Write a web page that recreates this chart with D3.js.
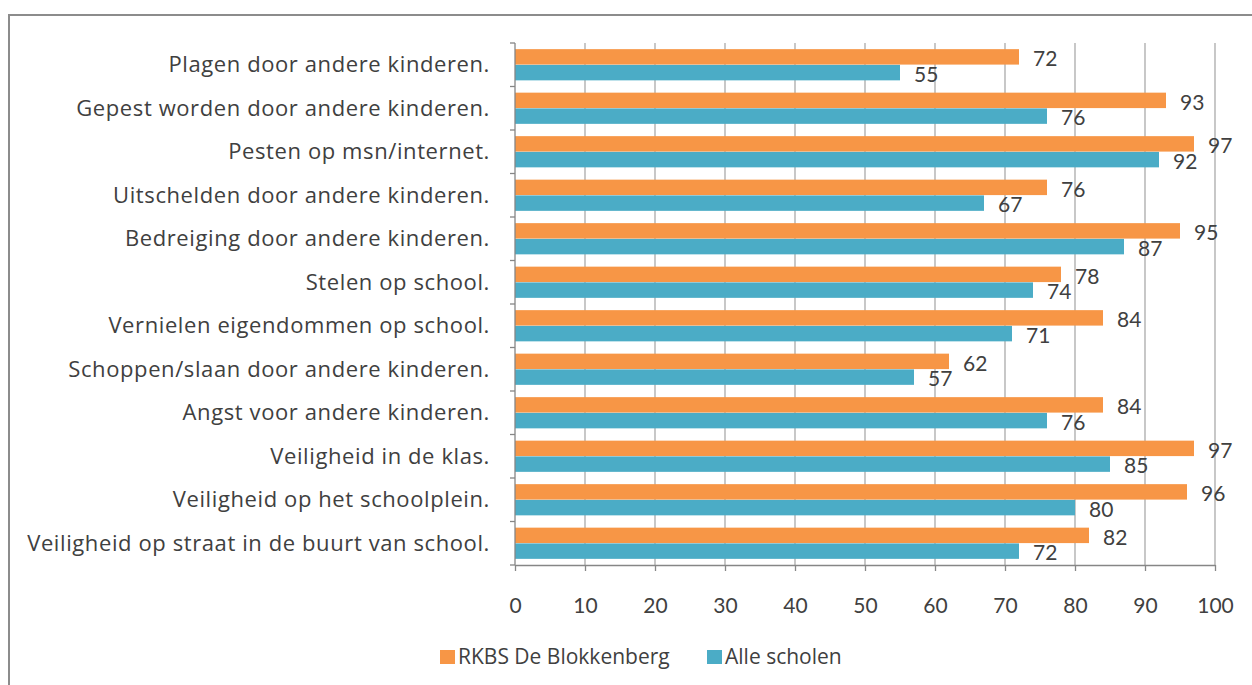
<!DOCTYPE html>
<html>
<head>
<meta charset="utf-8">
<script src="https://cdn.jsdelivr.net/npm/d3@7"></script>
<style>
  body { margin: 0; background: #fff; }
  text { font-family: Lato, "Open Sans", sans-serif; fill: #404040; }
</style>
</head>
<body>
<div id="chart"></div>
<script>
/** Chart data */
var categories = [
  "Plagen door andere kinderen.",
  "Gepest worden door andere kinderen.",
  "Pesten op msn/internet.",
  "Uitschelden door andere kinderen.",
  "Bedreiging door andere kinderen.",
  "Stelen op school.",
  "Vernielen eigendommen op school.",
  "Schoppen/slaan door andere kinderen.",
  "Angst voor andere kinderen.",
  "Veiligheid in de klas.",
  "Veiligheid op het schoolplein.",
  "Veiligheid op straat in de buurt van school."
];
var seriesNames = ["RKBS De Blokkenberg", "Alle scholen"];
var rkbsValues = [72, 93, 97, 76, 95, 78, 84, 62, 84, 97, 96, 82];
var alleValues = [55, 76, 92, 67, 87, 74, 71, 57, 76, 85, 80, 72];
var xTicks = [0, 10, 20, 30, 40, 50, 60, 70, 80, 90, 100];
var colors = ["#F79646", "#4BACC6"];

var width = 1252, height = 685;
var margin = {top: 43, left: 515};
var plotW = 700, plotH = 522;

var svg = d3.select("#chart").append("svg")
  .attr("width", width)
  .attr("height", height);

/** Outer frame */
svg.append("rect")
  .attr("x", 9).attr("y", 15)
  .attr("width", 1300).attr("height", 700)
  .attr("fill", "none")
  .attr("stroke", "#8c8c8c")
  .attr("stroke-width", 2);

var g = svg.append("g")
  .attr("transform", "translate(" + margin.left + "," + margin.top + ")");

var x = d3.scaleLinear().domain([0, 100]).range([0, plotW]);
var y = d3.scaleBand().domain(categories).range([0, plotH]).paddingInner(0).paddingOuter(0);
var inner = d3.scaleBand().domain([0, 1]).range([0, y.bandwidth()]).paddingInner(0.02).paddingOuter(0.39);

/** Vertical gridlines */
g.selectAll(".grid")
  .data(xTicks.slice(1))
  .enter().append("line")
    .attr("x1", function(d) { return x(d); })
    .attr("x2", function(d) { return x(d); })
    .attr("y1", 0).attr("y2", plotH)
    .attr("stroke", "#aaaaaa")
    .attr("stroke-width", 1.3);

/** Bars */
var rows = categories.map(function(c, i) { return {cat: c, vals: [rkbsValues[i], alleValues[i]]}; });
var row = g.selectAll(".row")
  .data(rows)
  .enter().append("g")
    .attr("transform", function(d) { return "translate(0," + y(d.cat) + ")"; });

row.selectAll("rect")
  .data(function(d) { return d.vals; })
  .enter().append("rect")
    .attr("x", 0)
    .attr("y", function(d, j) { return inner(j); })
    .attr("width", function(d) { return x(d); })
    .attr("height", inner.bandwidth())
    .attr("fill", function(d, j) { return colors[j]; });

row.selectAll(".val")
  .data(function(d) { return d.vals; })
  .enter().append("text")
    .attr("class", "val")
    .attr("x", function(d) { return x(d) + 14; })
    .attr("y", function(d, j) { return inner(j) + inner.bandwidth() / 2 + 2; })
    .attr("dy", "0.35em")
    .style("font-size", "21px")
    .text(function(d) { return d; });

/** Y axis: line with band ticks on the left */
var yAxis = g.append("g").attr("class", "axis axis--y");
yAxis.append("line")
  .attr("x1", 0).attr("x2", 0).attr("y1", 0).attr("y2", plotH)
  .attr("stroke", "#868686").attr("stroke-width", 1.3);
yAxis.selectAll(".tick")
  .data(d3.range(categories.length + 1))
  .enter().append("line")
    .attr("x1", -5).attr("x2", 0)
    .attr("y1", function(i) { return i * y.step(); })
    .attr("y2", function(i) { return i * y.step(); })
    .attr("stroke", "#868686").attr("stroke-width", 1.3);
yAxis.selectAll(".lab")
  .data(categories)
  .enter().append("text")
    .attr("x", -25)
    .attr("y", function(d) { return y(d) + y.bandwidth() / 2; })
    .attr("dy", "0.35em")
    .attr("text-anchor", "end")
    .style("font-family", "'Open Sans', sans-serif")
    .style("font-size", "22px")
    .style("letter-spacing", "0.6px")
    .text(function(d) { return d; });

/** X axis */
var xAxis = g.append("g")
  .attr("class", "axis axis--x")
  .attr("transform", "translate(0," + plotH + ")")
  .call(d3.axisBottom(x).tickValues(xTicks).tickSize(6).tickPadding(27).tickSizeOuter(0));
xAxis.select(".domain").attr("stroke", "#868686").attr("stroke-width", 1.3);
xAxis.selectAll(".tick line").attr("stroke", "#868686").attr("stroke-width", 1.3);
xAxis.selectAll(".tick text")
  .style("font-size", "21px")
  .style("font-family", "Lato, sans-serif")
  .attr("fill", "#404040");

/** Legend */
var legendX = [440, 707];
var legend = svg.selectAll(".legend")
  .data(seriesNames)
  .enter().append("g")
    .attr("transform", function(d, i) { return "translate(" + legendX[i] + ",657)"; });
legend.append("rect")
  .attr("x", 0).attr("y", -7)
  .attr("width", 15).attr("height", 14)
  .attr("fill", function(d, i) { return colors[i]; });
legend.append("text")
  .attr("x", 18).attr("y", 0)
  .attr("dy", "0.35em")
  .style("font-family", "'Open Sans', sans-serif")
  .style("font-size", "21px")
  .text(function(d) { return d; });
</script>
</body>
</html>
